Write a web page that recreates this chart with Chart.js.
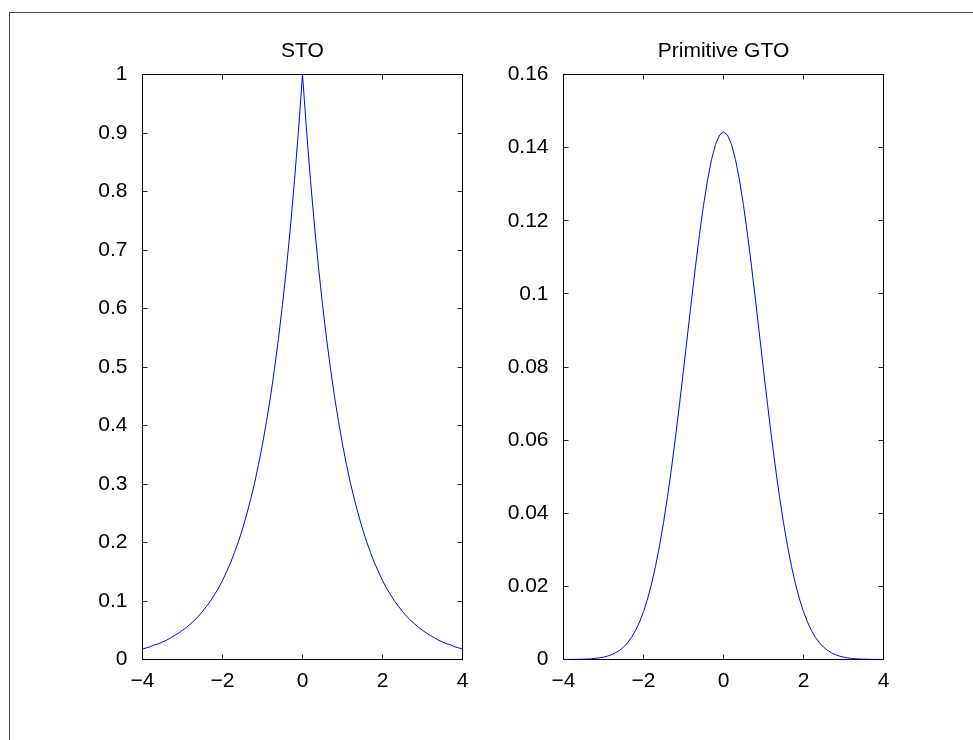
<!DOCTYPE html>
<html>
<head>
<meta charset="utf-8">
<script src="https://cdn.jsdelivr.net/npm/chart.js@4"></script>
<style>
  html, body { margin: 0; padding: 0; background: #fff; overflow: hidden; }
  #wrap { position: relative; width: 973px; height: 740px; }
  #frame { position: absolute; left: 9px; top: 12px; width: 980px; height: 740px;
           border-left: 1px solid #444; border-top: 1px solid #444; }
  canvas { position: absolute; top: 0; }
  #sto_chart { left: 0; }
  #gto_chart { left: 500px; }
</style>
</head>
<body>
<div id="wrap">
  <div id="frame"></div>
  <canvas id="sto_chart" width="500" height="740"></canvas>
  <canvas id="gto_chart" width="473" height="740"></canvas>
</div>
<script>
// x の値 (-4 から 4 まで)
const xs = [
  -4.0, -3.9, -3.8, -3.7, -3.6, -3.5, -3.4, -3.3, -3.2, -3.1,
  -3.0, -2.9, -2.8, -2.7, -2.6, -2.5, -2.4, -2.3, -2.2, -2.1,
  -2.0, -1.9, -1.8, -1.7, -1.6, -1.5, -1.4, -1.3, -1.2, -1.1,
  -1.0, -0.9, -0.8, -0.7, -0.6, -0.5, -0.4, -0.3, -0.2, -0.1,
  0.0,
  0.1, 0.2, 0.3, 0.4, 0.5, 0.6, 0.7, 0.8, 0.9, 1.0,
  1.1, 1.2, 1.3, 1.4, 1.5, 1.6, 1.7, 1.8, 1.9, 2.0,
  2.1, 2.2, 2.3, 2.4, 2.5, 2.6, 2.7, 2.8, 2.9, 3.0,
  3.1, 3.2, 3.3, 3.4, 3.5, 3.6, 3.7, 3.8, 3.9, 4.0
];

// STO の値
const sto_values = [
  0.018, 0.020, 0.022, 0.025, 0.027, 0.030, 0.033, 0.037, 0.041, 0.045,
  0.050, 0.055, 0.061, 0.067, 0.074, 0.082, 0.091, 0.100, 0.111, 0.122,
  0.135, 0.150, 0.165, 0.183, 0.202, 0.223, 0.247, 0.273, 0.301, 0.333,
  0.368, 0.407, 0.449, 0.497, 0.549, 0.607, 0.670, 0.741, 0.819, 0.905,
  1.000,
  0.905, 0.819, 0.741, 0.670, 0.607, 0.549, 0.497, 0.449, 0.407, 0.368,
  0.333, 0.301, 0.273, 0.247, 0.223, 0.202, 0.183, 0.165, 0.150, 0.135,
  0.122, 0.111, 0.100, 0.091, 0.082, 0.074, 0.067, 0.061, 0.055, 0.050,
  0.045, 0.041, 0.037, 0.033, 0.030, 0.027, 0.025, 0.022, 0.020, 0.018
];

// Primitive GTO の値
const gto_values = [
  0.00001, 0.00002, 0.00002, 0.00004, 0.00006, 0.00009, 0.00014, 0.00021, 0.00031, 0.00045,
  0.00065, 0.00093, 0.00131, 0.00182, 0.00250, 0.00339, 0.00455, 0.00604, 0.00791, 0.01024,
  0.01309, 0.01654, 0.02066, 0.02548, 0.03106, 0.03741, 0.04452, 0.05235, 0.06082, 0.06982,
  0.07919, 0.08876, 0.09828, 0.10754, 0.11627, 0.12420, 0.13109, 0.13671, 0.14088, 0.14344,
  0.14430,
  0.14344, 0.14088, 0.13671, 0.13109, 0.12420, 0.11627, 0.10754, 0.09828, 0.08876, 0.07919,
  0.06982, 0.06082, 0.05235, 0.04452, 0.03741, 0.03106, 0.02548, 0.02066, 0.01654, 0.01309,
  0.01024, 0.00791, 0.00604, 0.00455, 0.00339, 0.00250, 0.00182, 0.00131, 0.00093, 0.00065,
  0.00045, 0.00031, 0.00021, 0.00014, 0.00009, 0.00006, 0.00004, 0.00002, 0.00002, 0.00001
];

// 目盛り
const x_ticks = [-4, -2, 0, 2, 4];
const sto_y_max = 1, sto_y_step = 0.1;
const gto_y_max = 0.16, gto_y_step = 0.02;

Chart.defaults.font.family = '"Liberation Sans", Arial, Helvetica, sans-serif';
Chart.defaults.font.size = 21;
Chart.defaults.color = '#000';

// 枠と内向きの目盛り線
const boxTicks = {
  id: 'boxTicks',
  beforeDatasetsDraw(chart) {
    const ctx = chart.ctx;
    const a = chart.chartArea;
    const x = chart.scales.x, y = chart.scales.y;
    const len = 5;
    ctx.save();
    ctx.lineWidth = 1;
    ctx.strokeStyle = '#222';
    ctx.beginPath();
    x.ticks.forEach(t => {
      const px = Math.round(x.getPixelForValue(t.value) - 0.5) + 0.5;
      ctx.moveTo(px, a.bottom); ctx.lineTo(px, a.bottom - len);
      ctx.moveTo(px, a.top); ctx.lineTo(px, a.top + len);
    });
    y.ticks.forEach(t => {
      const py = Math.round(y.getPixelForValue(t.value) - 0.5) + 0.5;
      ctx.moveTo(a.left, py); ctx.lineTo(a.left + len, py);
      ctx.moveTo(a.right, py); ctx.lineTo(a.right - len, py);
    });
    ctx.stroke();
    ctx.strokeStyle = '#000';
    ctx.strokeRect(a.left, a.top, a.right - a.left, a.bottom - a.top);
    ctx.restore();
  }
};

function createChart(canvasId, title, values, yMax, yStep, yDigits, yWidth, padRight) {
  const points = xs.map((x, i) => ({ x: x, y: values[i] }));
  new Chart(document.getElementById(canvasId), {
    type: 'line',
    data: {
      datasets: [{
        data: points,
        borderColor: '#0000ff',
        borderWidth: 1,
        pointRadius: 0,
        tension: 0,
        fill: false
      }]
    },
    options: {
      responsive: false,
      animation: false,
      devicePixelRatio: 1,
      layout: { padding: { left: 0, right: padRight, top: 0, bottom: 40.5 } },
      scales: {
        x: {
          type: 'linear',
          min: x_ticks[0],
          max: x_ticks[x_ticks.length - 1],
          grid: { display: false },
          border: { display: false },
          afterFit: s => { s.height = 40; },
          afterBuildTicks: s => { s.ticks = x_ticks.map(v => ({ value: v })); },
          ticks: {
            padding: 1,
            maxRotation: 0,
            callback: v => String(v).replace('-', '\u2212')
          }
        },
        y: {
          min: 0,
          max: yMax,
          grid: { display: false },
          border: { display: false },
          afterFit: s => { s.width = yWidth; },
          ticks: {
            stepSize: yStep,
            padding: 7,
            autoSkip: false,
            callback: v => String(Number(v.toFixed(yDigits)))
          }
        }
      },
      plugins: {
        legend: { display: false },
        tooltip: { enabled: false },
        title: {
          display: true,
          text: title,
          fullSize: false,
          font: { size: 21, weight: 'normal' },
          padding: { top: 39, bottom: 10.3 }
        }
      }
    },
    plugins: [boxTicks]
  });
}

createChart('sto_chart', 'STO', sto_values, sto_y_max, sto_y_step, 1, 142.5, 37.5);
createChart('gto_chart', 'Primitive GTO', gto_values, gto_y_max, gto_y_step, 2, 63.5, 89.5);
</script>
</body>
</html>
